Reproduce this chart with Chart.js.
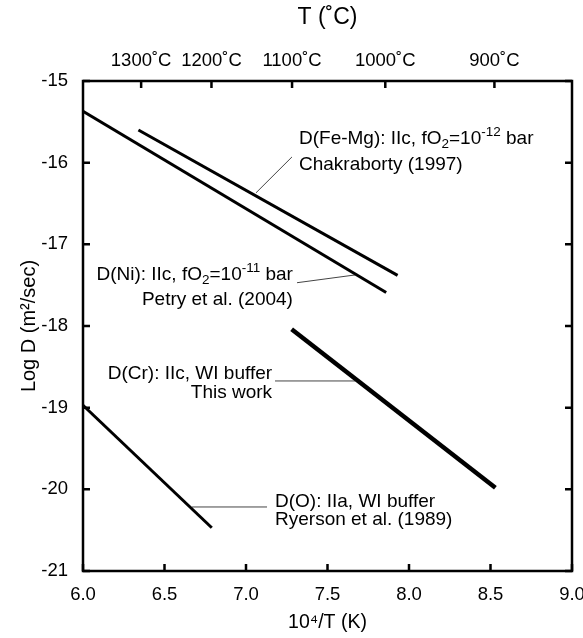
<!DOCTYPE html>
<html>
<head>
<meta charset="utf-8">
<script src="https://cdn.jsdelivr.net/npm/chart.js@4"></script>
<style>
  html, body { margin: 0; padding: 0; background: #fff; }
</style>
</head>
<body>
<canvas id="diffChart" width="583" height="638"></canvas>
<script>
// Arrhenius lines (x = 10^4/T in K, y = log D)
const feMgX = [6.34, 7.93];
const feMgY = [-15.60, -17.38];
const niX = [6.00, 7.86];
const niY = [-15.37, -17.59];
const crX = [7.28, 8.53];
const crY = [-18.04, -19.98];
const oX = [6.00, 6.79];
const oY = [-18.97, -20.47];

// leader lines from the labels to the curves
const feMgLeadX = [7.282, 7.061];
const feMgLeadY = [-15.93, -16.37];
const niLeadX = [7.313, 7.669];
const niLeadY = [-17.47, -17.375];
const crLeadX = [7.178, 7.669];
const crLeadY = [-18.673, -18.673];
const oLeadX = [6.669, 7.129];
const oLeadY = [-20.216, -20.216];

// axis ticks
const xTicks = [6.0, 6.5, 7.0, 7.5, 8.0, 8.5, 9.0];
const yTicks = [-21, -20, -19, -18, -17, -16, -15];
const tempTicks = [1300, 1200, 1100, 1000, 900]; // degrees C, top axis

const FONT = "'Liberation Sans', Arial, Helvetica, sans-serif";

// Function to zip x and y arrays into points
const pts = (xs, ys) => xs.map((x, i) => ({ x: x, y: ys[i] }));

// label texts, placed in data units
const notes = [
    { x: 7.325, y: -15.686, align: "left", parts: [["D(Fe-Mg): IIc, fO"], ["2", "sub"], ["=10"], ["-12", "sup"], [" bar"]] },
    { x: 7.325, y: -16.004, align: "left", parts: [["Chakraborty (1997)"]] },
    { x: 7.288, y: -17.351, align: "right", parts: [["D(Ni): IIc, fO"], ["2", "sub"], ["=10"], ["-11", "sup"], [" bar"]] },
    { x: 7.288, y: -17.657, align: "right", parts: [["Petry et al. (2004)"]] },
    { x: 7.160, y: -18.563, align: "right", parts: [["D(Cr): IIc, WI buffer"]] },
    { x: 7.160, y: -18.796, align: "right", parts: [["This work"]] },
    { x: 7.178, y: -20.131, align: "left", parts: [["D(O): IIa, WI buffer"]] },
    { x: 7.178, y: -20.351, align: "left", parts: [["Ryerson et al. (1989)"]] }
];

const lineSet = (label, data, width, color) => ({
    label: label,
    data: data,
    showLine: true,
    borderColor: color,
    borderWidth: width,
    pointRadius: 0,
    fill: false,
    borderCapStyle: "butt"
});

// keep each axis at a fixed size and stop label overflow from shrinking the plot
const fixSize = (w, h) => s => {
    if (w !== null) s.width = w;
    if (h !== null) s.height = h;
    s.paddingLeft = 0;
    s.paddingRight = 0;
    s.paddingTop = 0;
    s.paddingBottom = 0;
};

// draws the frame, inward ticks and the labels
const framePlugin = {
    id: "frame",
    afterDatasetsDraw(chart) {
        const ctx = chart.ctx;
        const a = chart.chartArea;
        const sx = chart.scales.x, sy = chart.scales.y, st = chart.scales.xTop;
        const tick = 7;
        ctx.save();
        ctx.strokeStyle = "#000";
        ctx.lineWidth = 2.5;
        ctx.lineCap = "butt";
        ctx.strokeRect(a.left, a.top, a.right - a.left, a.bottom - a.top);
        ctx.beginPath();
        xTicks.forEach(v => {
            const px = sx.getPixelForValue(v);
            ctx.moveTo(px, a.bottom);
            ctx.lineTo(px, a.bottom - tick);
        });
        yTicks.forEach(v => {
            const py = sy.getPixelForValue(v);
            ctx.moveTo(a.left, py);
            ctx.lineTo(a.left + tick, py);
            ctx.moveTo(a.right, py);
            ctx.lineTo(a.right - tick, py);
        });
        tempTicks.forEach(t => {
            const px = st.getPixelForValue(1e4 / (t + 273.15));
            ctx.moveTo(px, a.top);
            ctx.lineTo(px, a.top + tick);
        });
        ctx.stroke();

        // labels with sub/superscripts
        const size = 19, small = 13.5;
        ctx.fillStyle = "#000";
        ctx.textBaseline = "alphabetic";
        ctx.textAlign = "left";
        notes.forEach(n => {
            const cx = sx.getPixelForValue(n.x);
            const cy = sy.getPixelForValue(n.y);
            const base = cy + size * 0.358;
            let total = 0;
            const widths = n.parts.map(p => {
                ctx.font = (p[1] ? small : size) + "px " + FONT;
                const w = ctx.measureText(p[0]).width;
                total += w;
                return w;
            });
            let px = n.align === "right" ? cx - total : cx;
            n.parts.forEach((p, i) => {
                ctx.font = (p[1] ? small : size) + "px " + FONT;
                let by = base;
                if (p[1] === "sup") by = base - 8;
                if (p[1] === "sub") by = base + 4;
                ctx.fillText(p[0], px, by);
                px += widths[i];
            });
        });
        ctx.restore();
    }
};

const ctx = document.getElementById("diffChart").getContext("2d");
const myChart = new Chart(ctx, {
    type: "scatter",
    data: {
        datasets: [
            lineSet("D(Fe-Mg)", pts(feMgX, feMgY), 3, "#000"),
            lineSet("D(Ni)", pts(niX, niY), 3, "#000"),
            lineSet("D(Cr)", pts(crX, crY), 4.5, "#000"),
            lineSet("D(O)", pts(oX, oY), 3, "#000"),
            lineSet("lead Fe-Mg", pts(feMgLeadX, feMgLeadY), 1, "#444"),
            lineSet("lead Ni", pts(niLeadX, niLeadY), 1, "#444"),
            lineSet("lead Cr", pts(crLeadX, crLeadY), 1, "#444"),
            lineSet("lead O", pts(oLeadX, oLeadY), 1, "#444")
        ]
    },
    options: {
        responsive: false,
        animation: false,
        devicePixelRatio: 1,
        layout: { padding: 0, autoPadding: false },
        plugins: {
            legend: { display: false },
            tooltip: { enabled: false }
        },
        scales: {
            x: {
                type: "linear",
                position: "bottom",
                min: 6, max: 9,
                afterBuildTicks: s => { s.ticks = xTicks.map(v => ({ value: v })); },
                afterFit: fixSize(null, 67),
                grid: { display: false, drawTicks: false },
                border: { display: false },
                ticks: {
                    color: "#000",
                    padding: 13,
                    maxRotation: 0,
                    font: { family: FONT, size: 18.5 },
                    callback: v => v.toFixed(1)
                },
                title: {
                    display: true,
                    text: "10⁴/T (K)",
                    color: "#000",
                    padding: { top: 0, bottom: 4 },
                    font: { family: FONT, size: 19.5 }
                }
            },
            xTop: {
                type: "linear",
                position: "top",
                min: 6, max: 9,
                afterBuildTicks: s => { s.ticks = tempTicks.map(t => ({ value: 1e4 / (t + 273.15) })); },
                afterFit: fixSize(null, 81),
                grid: { display: false, drawTicks: false },
                border: { display: false },
                ticks: {
                    color: "#000",
                    padding: 9,
                    maxRotation: 0,
                    autoSkip: false,
                    font: { family: FONT, size: 18.5 },
                    callback: v => Math.round(1e4 / v - 273.15) + "˚C"
                },
                title: {
                    display: true,
                    text: "T (˚C)",
                    color: "#000",
                    padding: { top: 4, bottom: 0 },
                    font: { family: FONT, size: 23 }
                }
            },
            y: {
                type: "linear",
                position: "left",
                min: -21, max: -15,
                afterBuildTicks: s => { s.ticks = yTicks.map(v => ({ value: v })); },
                afterFit: fixSize(83, null),
                grid: { display: false, drawTicks: false },
                border: { display: false },
                ticks: {
                    color: "#000",
                    padding: 15,
                    font: { family: FONT, size: 18.5 }
                },
                title: {
                    display: true,
                    text: "Log D (m²/sec)",
                    color: "#000",
                    padding: { top: 17, bottom: 0 },
                    font: { family: FONT, size: 20 }
                }
            },
            yRight: {
                type: "linear",
                position: "right",
                min: -21, max: -15,
                afterFit: fixSize(11, null),
                grid: { display: false, drawTicks: false },
                border: { display: false },
                ticks: { display: false }
            }
        }
    },
    plugins: [framePlugin]
});
</script>
</body>
</html>
